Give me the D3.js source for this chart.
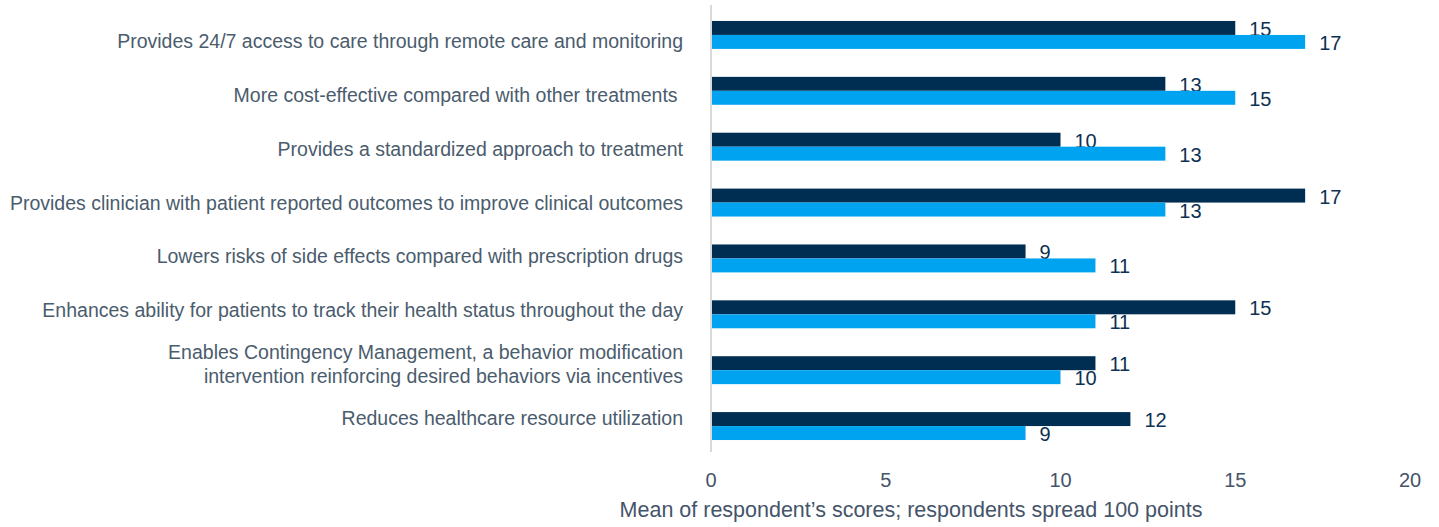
<!DOCTYPE html>
<html>
<head>
<meta charset="utf-8">
<script src="https://cdn.jsdelivr.net/npm/d3@7"></script>
<style>
	body { margin: 0; background: #fff; }
	svg { font-family: "Liberation Sans", Arial, sans-serif; }
	.cat-label { white-space: pre; }
</style>
</head>
<body>
<svg id="chart" width="1439" height="527"></svg>
<script>
var categories = [
	"Provides 24/7 access to care through remote care and monitoring",
	"More cost-effective compared with other treatments ",
	"Provides a standardized approach to treatment",
	"Provides clinician with patient reported outcomes to improve clinical outcomes",
	"Lowers risks of side effects compared with prescription drugs",
	"Enhances ability for patients to track their health status throughout the day",
	"Enables Contingency Management, a behavior modification\nintervention reinforcing desired behaviors via incentives",
	"Reduces healthcare resource utilization"
];
var seriesNames = ["dark", "light"];
var darkValues = [15, 13, 10, 17, 9, 15, 11, 12];
var lightValues = [17, 15, 13, 13, 11, 11, 10, 9];
var xTicks = [0, 5, 10, 15, 20];
var axisTitle = "Mean of respondent\u2019s scores; respondents spread 100 points";

var colors = { dark: "#002d52", light: "#00a3ef" };

var svg = d3.select("#chart");

var x = d3.scaleLinear().domain([0, 20]).range([711, 1410]);
var y = d3.scaleBand().domain(categories).range([7, 454])
	.paddingInner(0.5).paddingOuter(0.25);
var ySub = d3.scaleBand().domain(seriesNames).range([0, y.bandwidth()]);
// labels sit on a slightly tighter spacing than the bars
var yLabel = d3.scalePoint().domain(categories).range([41, 418]);

// zero line
svg.append("line")
	.attr("x1", x(0)).attr("x2", x(0))
	.attr("y1", 5).attr("y2", 452)
	.attr("stroke", "#d9d9d9")
	.attr("stroke-width", 2);

var rows = categories.map(function (c, i) {
	return { cat: c, dark: darkValues[i], light: lightValues[i] };
});

seriesNames.forEach(function (s) {
	svg.append("g").selectAll("rect")
		.data(rows)
		.enter().append("rect")
		.attr("x", x(0) + 1)
		.attr("y", function (d) { return y(d.cat) + ySub(s); })
		.attr("width", function (d) { return x(d[s]) - x(0) - 1; })
		.attr("height", ySub.bandwidth())
		.attr("fill", colors[s]);

	svg.append("g").selectAll("text")
		.data(rows)
		.enter().append("text")
		.attr("x", function (d) { return x(d[s]) + 14; })
		.attr("y", function (d) { return y(d.cat) + ySub(s) + ySub.bandwidth() / 2 + 1; })
		.attr("dominant-baseline", "central")
		.attr("font-size", 20)
		.attr("fill", "#0d3152")
		.text(function (d) { return d[s]; });
});

// category labels
var labels = svg.append("g").selectAll("text")
	.data(categories)
	.enter().append("text")
	.attr("class", "cat-label")
	.attr("text-anchor", "end")
	.attr("font-size", 19.5)
	.attr("fill", "#4a5c6d")
	.attr("y", function (d) { return yLabel(d); });

labels.each(function (d) {
	var lines = d.split("\n");
	var t = d3.select(this);
	var off = -(lines.length - 1) / 2 * 24;
	lines.forEach(function (line, j) {
		t.append("tspan")
			.attr("x", 683)
			.attr("y", yLabel(d) + off + j * 24)
			.attr("dominant-baseline", "central")
			.text(line);
	});
});

// x axis tick labels
svg.append("g").selectAll("text")
	.data(xTicks)
	.enter().append("text")
	.attr("x", function (d) { return x(d); })
	.attr("y", 480)
	.attr("text-anchor", "middle")
	.attr("dominant-baseline", "central")
	.attr("font-size", 20)
	.attr("fill", "#44546a")
	.text(function (d) { return d; });

svg.append("text")
	.attr("x", 911)
	.attr("y", 510)
	.attr("text-anchor", "middle")
	.attr("dominant-baseline", "central")
	.attr("font-size", 21.5)
	.attr("fill", "#44546a")
	.text(axisTitle);
</script>
</body>
</html>
